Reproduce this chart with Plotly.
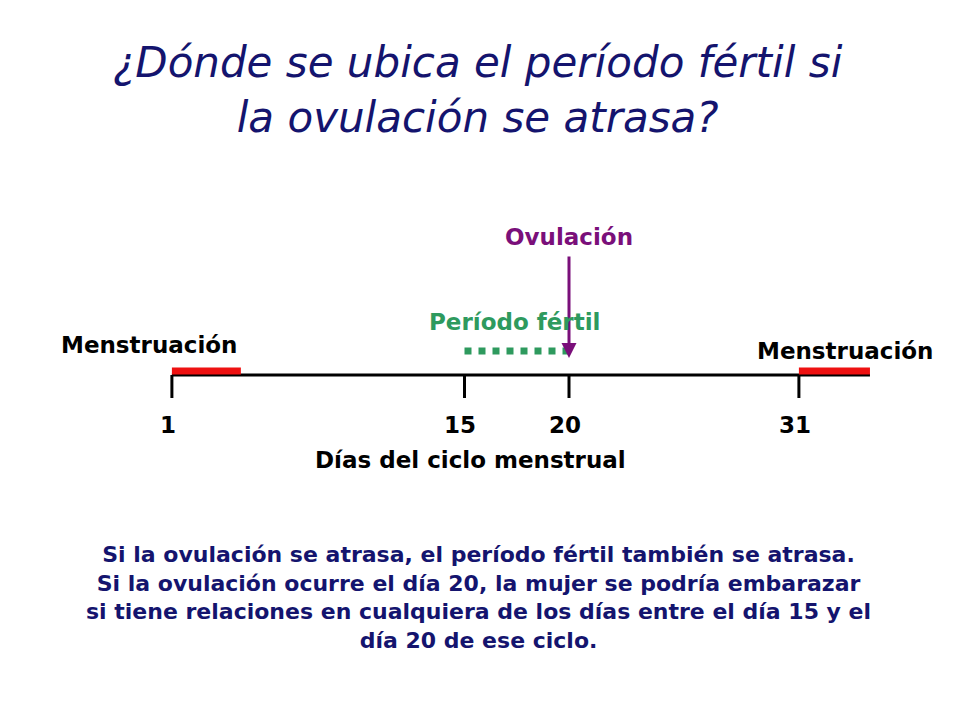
import plotly.graph_objects as go

tick_days = [1, 15, 20, 31]
tick_labels = ["1", "15", "20", "31"]
cycle_end = 34.4
menses_1 = [1, 4.3]
menses_2 = [31, 34.4]
fertile = [15, 20]
ovulation_day = 20

F = "DejaVu Sans"
NAVY = "#14146e"
fig = go.Figure()
fig.add_trace(go.Scatter(x=[1, cycle_end], y=[375, 375], mode="lines",
                         line=dict(color="black", width=3), hoverinfo="skip"))
for d in tick_days:
    fig.add_trace(go.Scatter(x=[d, d], y=[375, 398], mode="lines",
                             line=dict(color="black", width=3), hoverinfo="skip"))
for m in (menses_1, menses_2):
    fig.add_trace(go.Scatter(x=m, y=[371, 371], mode="lines",
                             line=dict(color="#ee1111", width=7), hoverinfo="skip"))
fig.add_trace(go.Scatter(x=fertile, y=[351, 351], mode="lines",
                         line=dict(color="#2e9a5e", width=7, dash="dot"), hoverinfo="skip"))
fig.add_annotation(x=ovulation_day, y=358, ax=ovulation_day, ay=255, xref="x", yref="y",
                   axref="x", ayref="y", showarrow=True, arrowhead=2, arrowsize=1,
                   arrowwidth=3, arrowcolor="#7a0f7a", text="")
for d, t in zip(tick_days, tick_labels):
    fig.add_annotation(x=d - 0.2, y=425, text=f"<b>{t}</b>", showarrow=False,
                       font=dict(family=F, size=23, color="black"))

def txt(x, y, s, size=23, color="black", **kw):
    fig.add_annotation(x=x, y=y, text=s, showarrow=False, font=dict(family=F, size=size, color=color), **kw)

txt(ovulation_day, 237, "<b>Ovulación</b>", color="#7a0f7a")
txt(17.4, 322, "<b>Período fértil</b>", color="#2e9a5e")
txt(-0.1, 345, "<b>Menstruación</b>")
txt(33.2, 351, "<b>Menstruación</b>")
txt(15.3, 460, "<b>Días del ciclo menstrual</b>")
fig.add_annotation(xref="paper", x=0.49, y=90, text="<i>¿Dónde se ubica el período fértil si<br>la ovulación se atrasa?</i>",
                   showarrow=False, font=dict(family=F, size=42, color=NAVY))
fig.add_annotation(xref="paper", x=0.49, y=597,
                   text="<b>Si la ovulación se atrasa, el período fértil también se atrasa.<br>"
                        "Si la ovulación ocurre el día 20, la mujer se podría embarazar<br>"
                        "si tiene relaciones en cualquiera de los días entre el día 15 y el<br>"
                        "día 20 de ese ciclo.</b>",
                   showarrow=False, font=dict(family=F, size=22, color=NAVY))

off = 8 / 20.9
fig.update_layout(width=960, height=720, margin=dict(l=0, r=0, t=0, b=0),
                  paper_bgcolor="white", plot_bgcolor="white", showlegend=False,
                  xaxis=dict(range=[-151/20.9 + off, (960-151)/20.9 + off], visible=False, fixedrange=True),
                  yaxis=dict(range=[728, 8], visible=False, fixedrange=True))
fig.write_html("out.html", config={"displayModeBar": False})
